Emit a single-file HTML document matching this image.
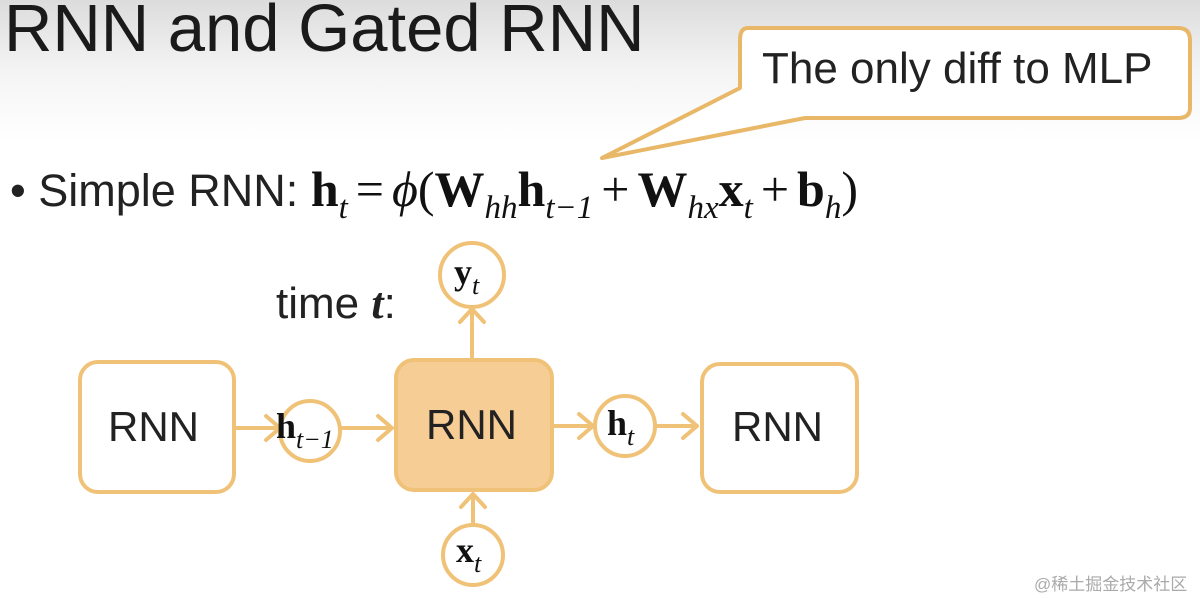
<!DOCTYPE html>
<html><head><meta charset="utf-8"><style>
html,body{margin:0;padding:0}
body{width:1200px;height:598px;overflow:hidden;position:relative;background:linear-gradient(#dcdcdc 0px,#f4f4f4 70px,#ffffff 140px,#fff 598px);font-family:"Liberation Sans",sans-serif}
.t{position:absolute;white-space:nowrap}
.m{font-family:'Liberation Serif',serif;color:#111}
.s{font-size:33px;vertical-align:-12px;font-style:italic}
.o{margin:0 8px}
</style></head><body>
<svg width="1200" height="598" style="position:absolute;left:0;top:0">
<g fill="none" stroke="#f0c277" stroke-width="4" stroke-linejoin="round" stroke-linecap="round">
<path d="M748,28 H1178 Q1190,28 1190,40 V108 Q1190,118 1178,118 H805 L602,158 L740,88 V40 Q740,28 748,28 Z" fill="#fff" stroke="#e8b868" stroke-width="4"/>
<rect x="80" y="362" width="154" height="130" rx="18" fill="#fff"/>
<rect x="396" y="360" width="156" height="130" rx="18" fill="#f7cd96"/>
<rect x="702" y="364" width="155" height="128" rx="18" fill="#fff"/>
<circle cx="310" cy="431" r="30" fill="#fff"/>
<circle cx="625" cy="426" r="30" fill="#fff"/>
<circle cx="472" cy="275" r="32" fill="#fff"/>
<circle cx="473" cy="555" r="30" fill="#fff"/>
<path d="M236,428 H280 M266,416 L280,428 L266,440"/>
<path d="M340,428 H392 M378,416 L392,428 L378,440"/>
<path d="M554,426 H593 M579,414 L593,426 L579,438"/>
<path d="M656,426 H697 M683,414 L697,426 L683,438"/>
<path d="M472,358 V309 M460,322 L472,309 L484,322"/>
<path d="M473,524 V494 M461,507 L473,494 L485,507"/>
</g>
</svg>
<div class="t" style="left:4px;top:-10px;font-size:67px;color:#1a1a1a">RNN and Gated RNN</div>
<div class="t" style="left:762px;top:44px;font-size:44px;color:#222">The only diff to MLP</div>
<div class="t" style="left:10px;top:160px;font-size:45px;color:#222">• Simple RNN: <span class="m" style="font-size:50px"><b>h</b><span class="s">t</span><span class="o">=</span><i>ϕ</i>(<b>W</b><span class="s">hh</span><b>h</b><span class="s">t−1</span><span class="o">+</span><b>W</b><span class="s">hx</span><b>x</b><span class="s">t</span><span class="o">+</span><b>b</b><span class="s">h</span>)</span></div>
<div class="t" style="left:276px;top:278px;font-size:44px;color:#222">time <i style="font-family:'Liberation Serif',serif;font-weight:bold">t</i>:</div>
<div class="t" style="left:108px;top:403px;font-size:42px;color:#222">RNN</div>
<div class="t" style="left:426px;top:401px;font-size:42px;color:#222">RNN</div>
<div class="t" style="left:732px;top:403px;font-size:42px;color:#222">RNN</div>
<div class="t m" style="left:276px;top:405px;font-size:36px"><b>h</b><i style="font-size:26px;vertical-align:-10px">t−1</i></div>
<div class="t m" style="left:607px;top:402px;font-size:36px"><b>h</b><i style="font-size:26px;vertical-align:-10px">t</i></div>
<div class="t m" style="left:454px;top:251px;font-size:36px"><b>y</b><i style="font-size:26px;vertical-align:-10px">t</i></div>
<div class="t m" style="left:456px;top:529px;font-size:36px"><b>x</b><i style="font-size:26px;vertical-align:-10px">t</i></div>
<div class="t" style="left:1034px;top:570px;font-size:17px;color:#aaa;font-family:'Liberation Sans','Noto Sans CJK SC',sans-serif">@稀土掘金技术社区</div>
</body></html>
